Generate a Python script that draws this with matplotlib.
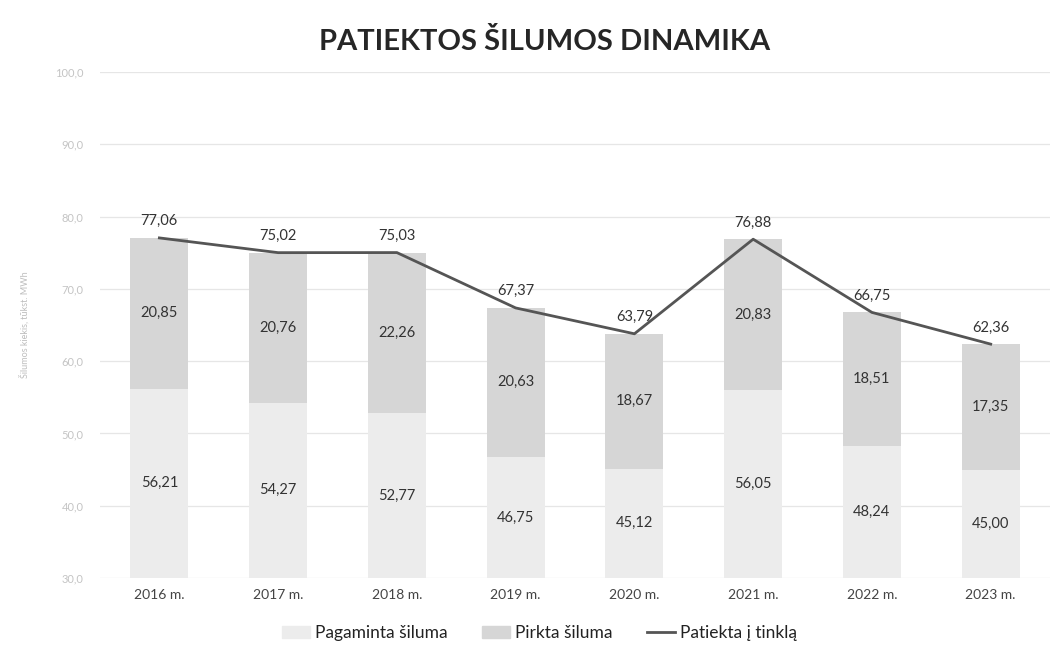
import matplotlib
matplotlib.use("Agg")
import matplotlib.pyplot as plt
import numpy as np
from matplotlib.patches import Patch
from matplotlib.lines import Line2D

plt.rcParams["font.family"] = ["Lato", "DejaVu Sans"]

# ── Duomenys ─────────────────────────────────────────────────────────────────
years = ["2016 m.", "2017 m.", "2018 m.", "2019 m.", "2020 m.", "2021 m.", "2022 m.", "2023 m."]
pagaminta = [56.21, 54.27, 52.77, 46.75, 45.12, 56.05, 48.24, 45.00]
pirkta = [20.85, 20.76, 22.26, 20.63, 18.67, 20.83, 18.51, 17.35]
patiekta = [77.06, 75.02, 75.03, 67.37, 63.79, 76.88, 66.75, 62.36]
y_ticks = [30, 40, 50, 60, 70, 80, 90, 100]

C_PAG = "#ececec"
C_PIR = "#d6d6d6"
C_LINE = "#555555"
C_TXT = "#333333"


def fmt(v):
    return f"{v:.2f}".replace(".", ",")


fig = plt.figure(figsize=(10.58, 6.56), dpi=100)
ax = fig.add_axes([0.0945, 0.119, 0.898, 0.771])

x = np.arange(len(years))
w = 0.49
ymin, ymax = y_ticks[0], y_ticks[-1]

ax.bar(x, pagaminta, w, color=C_PAG, zorder=2)
ax.bar(x, pirkta, w, bottom=pagaminta, color=C_PIR, zorder=2)
ax.plot(x, patiekta, color=C_LINE, lw=2, zorder=3)

for i in x:
    lo = max(ymin, 0)
    ax.text(i, (lo + pagaminta[i]) / 2, fmt(pagaminta[i]), ha="center", va="center",
            fontsize=10.5, color=C_TXT, zorder=4)
    ax.text(i, pagaminta[i] + pirkta[i] / 2, fmt(pirkta[i]), ha="center", va="center",
            fontsize=10.5, color=C_TXT, zorder=4)
    ax.annotate(fmt(patiekta[i]), (i, patiekta[i]), xytext=(0, 7), textcoords="offset points",
                ha="center", va="bottom", fontsize=10.5, color=C_TXT, zorder=4)

ax.set_xlim(-0.5, len(years) - 0.5)
ax.set_ylim(ymin, ymax)
ax.set_yticks(y_ticks)
ax.set_yticklabels([f"{t:.1f}".replace(".", ",") for t in y_ticks], fontsize=8, color="#c4c4c4")
ax.set_xticks(x)
ax.set_xticklabels(years, fontsize=10, color="#444444")
ax.tick_params(length=0, pad=8)
ax.tick_params(axis="y", pad=12)
for s in ax.spines.values():
    s.set_visible(False)
ax.grid(axis="y", color="#e6e6e6", lw=0.9, zorder=0)
ax.set_axisbelow(True)
ax.set_ylabel("Šilumos kiekis, tūkst. MWh", fontsize=6.5, color="#bdbdbd", labelpad=18)

fig.text(0.515, 0.937, "PATIEKTOS ŠILUMOS DINAMIKA", ha="center", va="center",
         fontsize=21, fontweight="bold", color="#262626")

handles = [Patch(color=C_PAG), Patch(color=C_PIR), Line2D([], [], color=C_LINE, lw=2)]
labels = ["Pagaminta šiluma", "Pirkta šiluma", "Patiekta į tinklą"]
fig.legend(handles, labels, loc="center", bbox_to_anchor=(0.51, 0.035), ncol=3, frameon=False,
           fontsize=12.5, handlelength=1.6, handletextpad=0.3, columnspacing=2.0,
           labelcolor="#222222")

fig.savefig("out.png", dpi=100, facecolor="white")
